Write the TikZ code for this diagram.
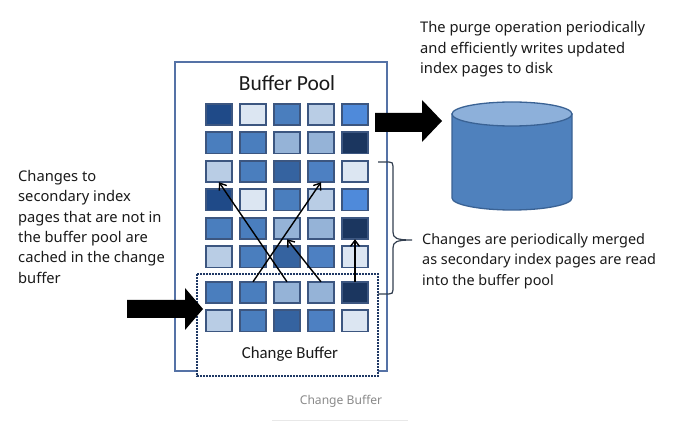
\documentclass[tikz,border=0pt]{standalone}
\usepackage{fontspec}
\setmainfont{Noto Sans}
\newfontfamily\calfont{Carlito}
\usetikzlibrary{arrows.meta}
\definecolor{cA1}{HTML}{1F4A88}
\definecolor{cA2}{HTML}{DCE6F2}
\definecolor{cA3}{HTML}{4A7EBE}
\definecolor{cA4}{HTML}{B9CDE5}
\definecolor{cA5}{HTML}{4F8ADA}
\definecolor{cB1}{HTML}{4A7EBE}
\definecolor{cB2}{HTML}{4A7EBE}
\definecolor{cB3}{HTML}{95B3D7}
\definecolor{cB4}{HTML}{95B3D7}
\definecolor{cB5}{HTML}{1B365F}
\definecolor{cC1}{HTML}{B9CDE5}
\definecolor{cC2}{HTML}{4A7EBE}
\definecolor{cC3}{HTML}{3563A0}
\definecolor{cC4}{HTML}{4D80C2}
\definecolor{cC5}{HTML}{DCE6F2}
\definecolor{sqborder}{HTML}{3C5680}
\definecolor{poolline}{HTML}{5572A6}
\definecolor{cbline}{HTML}{1F3864}
\definecolor{cylbody}{HTML}{4F81BD}
\definecolor{cyltop}{HTML}{8DB0DA}
\definecolor{cylline}{HTML}{3A6294}
\definecolor{bracecol}{HTML}{333F50}
\definecolor{txt}{HTML}{1A1A1A}
\definecolor{captxt}{HTML}{8A8A8A}
\definecolor{capline}{HTML}{E8E8E8}
\begin{document}
\begin{tikzpicture}[x=1pt,y=-1pt,
  sq/.style={draw=sqborder, line width=1.6pt, minimum width=26.4pt, minimum height=21.4pt, inner sep=0pt, outer sep=0pt},
  poolbox/.style={draw=poolline, line width=1.7pt},
  cbbox/.style={draw=cbline, line width=2pt, dash pattern=on 1.6pt off 1.4pt, fill=white},
  thinarrow/.style={draw=black, line width=1.4pt, -{Straight Barb[length=6pt,width=9pt]}},
  blockarrow/.style={fill=black},
  sidetext/.style={font=\fontsize{14.7}{20.3}\selectfont, align=left, inner sep=0pt, text=txt, anchor=north west},
  bracestyle/.style={draw=bracecol, line width=1.2pt}
]
\useasboundingbox (0,0) rectangle (678,430);
\fill[white] (0,0) rectangle (678,430);

% buffer pool
\draw[poolbox] (175,62) rectangle (387,371);
\node[font=\calfont\fontsize{21.5}{24}\selectfont, text=txt, inner sep=0pt] (pooltitle) at (287,83) {Buffer Pool};

% change buffer dotted box
\draw[cbbox] (197,274) rectangle (378,376);

% pages
\foreach \r/\y/\t in {1/114.5/A,2/143/B,3/171.5/C,4/200/A,5/228.5/B,6/257/C,7/292.5/B,8/321/C}
  \foreach \c in {1,...,5}
    \node[sq, fill=c\t\c] (s\r\c) at ({219+34*(\c-1)},\y) {};

\node[font=\calfont\fontsize{16.8}{20}\selectfont, text=txt, inner sep=0pt, anchor=base] (cblabel) at (290,358.5) {Change Buffer};

% merge arrows
\draw[thinarrow] (s73.north) -- (s31.south);
\draw[thinarrow] (s72.north) -- (s34.south);
\draw[thinarrow] (s74.north) -- (s53.south);
\draw[thinarrow] (s75.north) -- (s55.south);

% block arrows
\fill[blockarrow] (375,113) -- (422,113) -- (422,100) -- (442,121) -- (422,142) -- (422,132) -- (375,132) -- cycle;
\fill[blockarrow] (127,300) -- (185,300) -- (185,288) -- (203,309) -- (185,330) -- (185,318) -- (127,318) -- cycle;

% disk
\filldraw[fill=cylbody, draw=cylline, line width=1.3pt] (452,114) -- (452,198) arc[start angle=180, end angle=360, x radius=60pt, y radius=12pt] -- (572,114) -- cycle;
\filldraw[fill=cyltop, draw=cylline, line width=1.3pt] (512,114) ellipse [x radius=60pt, y radius=12pt];

% brace
\draw[bracestyle] (378,162) -- (389,162) .. controls (392,162) and (393,163) .. (393,166) -- (393,232)
  .. controls (393,238) and (396,240) .. (412,240)
  .. controls (396,240) and (393,242) .. (393,248) -- (393,290)
  .. controls (393,293) and (392,294) .. (389,294) -- (378,294);

% texts
\node[sidetext] (lefttext) at (18,170.3) {Changes to\\secondary index\\pages that are not in\\the buffer pool are\\cached in the change\\buffer};
\node[sidetext] (purgetext) at (420,21.5) {The purge operation periodically\\and efficiently writes updated\\index pages to disk};
\node[sidetext, font=\fontsize{14.4}{20.3}\selectfont] (mergetext) at (422,233.3) {Changes are periodically merged\\as secondary index pages are read\\into the buffer pool};

% caption
\node[font=\fontsize{12.1}{14}\selectfont, text=captxt, inner sep=0pt, anchor=base] (caption) at (341,404.3) {Change Buffer};
\draw[capline, line width=1pt] (272,421) -- (408,421);
\end{tikzpicture}
\end{document}
